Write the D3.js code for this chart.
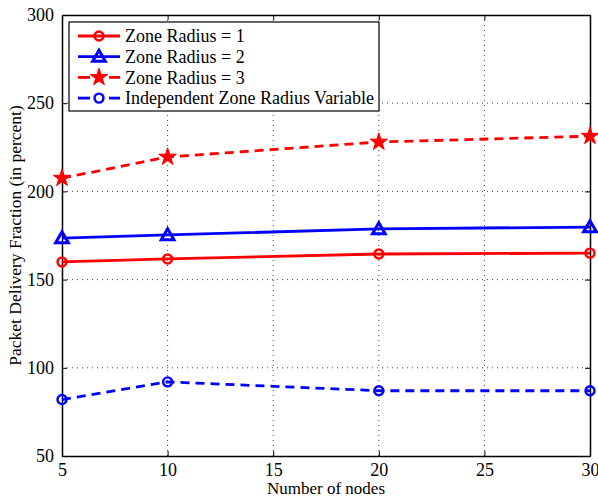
<!DOCTYPE html>
<html>
<head>
<meta charset="utf-8">
<script src="https://cdn.jsdelivr.net/npm/d3@7"></script>
<style>
  body { margin: 0; background: #fff; }
  text { font-family: "Liberation Serif", "Times New Roman", serif; }
</style>
</head>
<body>
<svg width="598" height="498"></svg>
<script>
// chart values
var nodes = [5, 10, 20, 30];
var radius1 = [160, 161.7, 164.5, 165];
var radius2 = [173.5, 175.3, 178.7, 179.8];
var radius3 = [207.5, 219.5, 228, 231.3];
var independent = [82, 92, 87, 87];
var xTicks = [5, 10, 15, 20, 25, 30];
var yTicks = [50, 100, 150, 200, 250, 300];

var series = [
    { name: "Zone Radius = 1", values: radius1, color: "#ff0000", dash: null, marker: "circle" },
    { name: "Zone Radius = 2", values: radius2, color: "#0000ff", dash: null, marker: "triangle" },
    { name: "Zone Radius = 3", values: radius3, color: "#ff0000", dash: "9,6", marker: "star" },
    { name: "Independent Zone Radius Variable", values: independent, color: "#0000ff", dash: "9,6", marker: "circle" }
];

var svg = d3.select("svg"),
    mLeft = 62, mRight = 590, mTop = 15, mBottom = 456,
    width = mRight - mLeft, height = mBottom - mTop;

var xScale = d3.scaleLinear().domain([5, 30]).range([0, width]);
var yScale = d3.scaleLinear().domain([50, 300]).range([height, 0]);

var g = svg.append("g").attr("transform", "translate(" + mLeft + "," + mTop + ")");

// dotted grid
g.append("g").selectAll("line").data(xTicks.slice(1, -1)).enter().append("line")
    .attr("x1", d => xScale(d)).attr("x2", d => xScale(d))
    .attr("y1", 0).attr("y2", height)
    .attr("stroke", "#444").attr("stroke-width", 1).attr("stroke-dasharray", "1,4");
g.append("g").selectAll("line").data(yTicks.slice(1, -1)).enter().append("line")
    .attr("y1", d => yScale(d)).attr("y2", d => yScale(d))
    .attr("x1", 0).attr("x2", width)
    .attr("stroke", "#444").attr("stroke-width", 1).attr("stroke-dasharray", "1,4");

// axes (ticks inward, matlab style)
var xAxis = g.append("g").attr("transform", "translate(0," + height + ")")
    .call(d3.axisBottom(xScale).tickValues(xTicks).tickSize(-5).tickPadding(6).tickSizeOuter(0));
var yAxis = g.append("g")
    .call(d3.axisLeft(yScale).tickValues(yTicks).tickSize(-5).tickPadding(8).tickSizeOuter(0));
g.append("g").call(d3.axisTop(xScale).tickValues(xTicks).tickSize(-5).tickFormat("").tickSizeOuter(0));
g.append("g").attr("transform", "translate(" + width + ",0)")
    .call(d3.axisRight(yScale).tickValues(yTicks).tickSize(-5).tickFormat("").tickSizeOuter(0));

g.selectAll(".domain").attr("stroke", "#000").attr("stroke-width", 1.5);
g.selectAll(".tick line").attr("stroke", "#000");
g.selectAll(".tick text").attr("fill", "#000").style("font-size", "18px")
    .style("font-family", "Liberation Serif, serif");
xAxis.selectAll(".tick text").attr("dy", "0.75em");

// lines
var line = d3.line().x((d, i) => xScale(nodes[i])).y(d => yScale(d));

var star = d3.symbol().type(d3.symbolStar).size(95);
var tri = d3.symbol().type(d3.symbolTriangle).size(70);

function drawMarker(sel, s) {
    if (s.marker === "circle") {
        sel.append("circle").attr("r", 4.5).attr("fill", "none")
            .attr("stroke", s.color).attr("stroke-width", 2.4);
    } else if (s.marker === "triangle") {
        sel.append("path").attr("d", tri()).attr("fill", "none")
            .attr("stroke", s.color).attr("stroke-width", 3)
            .attr("transform", "translate(0,1)");
    } else {
        sel.append("path").attr("d", star()).attr("fill", s.color).attr("stroke", s.color);
    }
}

series.forEach(function (s) {
    g.append("path").datum(s.values)
        .attr("d", line).attr("fill", "none")
        .attr("stroke", s.color).attr("stroke-width", 2.8)
        .attr("stroke-dasharray", s.dash);
    s.values.forEach(function (v, i) {
        var m = g.append("g").attr("transform", "translate(" + xScale(nodes[i]) + "," + yScale(v) + ")");
        drawMarker(m, s);
    });
});

// legend
var lg = svg.append("g").attr("transform", "translate(69,22)");
lg.append("rect").attr("width", 310).attr("height", 89)
    .attr("fill", "#fff").attr("stroke", "#000").attr("stroke-width", 1.2);
series.forEach(function (s, i) {
    var y = 14 + i * 20.7;
    var row = lg.append("g").attr("transform", "translate(0," + y + ")");
    if (s.dash) {
        row.append("line").attr("x1", 9).attr("x2", 21).attr("y1", 0).attr("y2", 0)
            .attr("stroke", s.color).attr("stroke-width", 2.8);
        row.append("line").attr("x1", 40).attr("x2", 51).attr("y1", 0).attr("y2", 0)
            .attr("stroke", s.color).attr("stroke-width", 2.8);
    } else {
        row.append("line").attr("x1", 9).attr("x2", 51).attr("y1", 0).attr("y2", 0)
            .attr("stroke", s.color).attr("stroke-width", 2.8);
    }
    drawMarker(row.append("g").attr("transform", "translate(30,0)"), s);
    row.append("text").attr("x", 56).attr("y", 0).attr("dy", "0.35em")
        .style("font-size", "18px").text(s.name);
});

// axis labels
svg.append("text").attr("x", mLeft + width / 2).attr("y", 494)
    .attr("text-anchor", "middle").style("font-size", "17px").text("Number of nodes");
svg.append("text").attr("transform", "translate(21," + (mTop + height / 2) + ") rotate(-90)")
    .attr("text-anchor", "middle").style("font-size", "17.5px").text("Packet Delivery Fraction (in percent)");
</script>
</body>
</html>
